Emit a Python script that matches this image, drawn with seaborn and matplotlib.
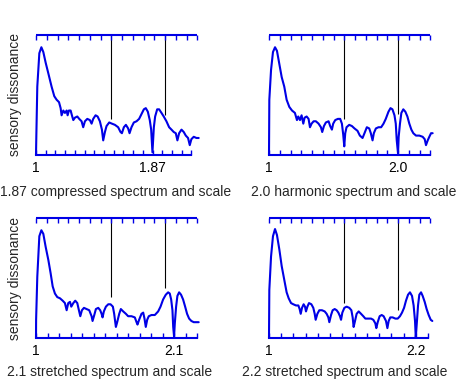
"""
Dissonance curves for compressed, harmonic and stretched spectra
Run: python plot.py
"""

import numpy as np
import matplotlib
matplotlib.use("Agg")
import matplotlib.pyplot as plt
import seaborn as sns

# ── Data (interval in cents above 1, sensory dissonance 0..1) ─────────────
comp_cents = [0, 3, 12, 31, 50, 68, 90, 115, 145, 170, 192, 214, 229, 238, 254, 269,
              285, 294, 306, 322, 337, 347, 362, 384, 402, 424, 439, 455, 477, 501,
              517, 532, 554, 573, 594, 613, 625, 641, 656, 681, 706, 734, 764, 786,
              799, 817, 836, 857, 870, 888, 910, 935, 959, 981, 1003, 1021, 1040,
              1058, 1071, 1083, 1096, 1108, 1127, 1145, 1167, 1188, 1213, 1238, 1260,
              1281, 1300, 1315, 1331, 1353, 1374, 1393, 1414, 1430, 1445, 1467, 1492,
              1513]
comp_diss = [0.00, 0.15, 0.57, 0.85, 0.90, 0.86, 0.77, 0.68, 0.57, 0.49, 0.46, 0.44,
             0.39, 0.33, 0.37, 0.35, 0.37, 0.33, 0.37, 0.37, 0.32, 0.29, 0.31, 0.32,
             0.30, 0.28, 0.23, 0.28, 0.30, 0.29, 0.26, 0.30, 0.33, 0.32, 0.28, 0.21,
             0.12, 0.19, 0.24, 0.27, 0.26, 0.25, 0.23, 0.19, 0.18, 0.23, 0.25, 0.22,
             0.18, 0.23, 0.27, 0.28, 0.30, 0.34, 0.38, 0.39, 0.36, 0.29, 0.21, 0.02,
             0.23, 0.32, 0.38, 0.38, 0.35, 0.32, 0.28, 0.23, 0.21, 0.19, 0.18, 0.12,
             0.18, 0.21, 0.19, 0.16, 0.14, 0.08, 0.13, 0.15, 0.14, 0.14]

harm_cents = [0, 1, 3, 19, 37, 56, 74, 96, 118, 142, 164, 189, 214, 241, 260, 272,
              288, 303, 319, 331, 350, 368, 381, 396, 415, 436, 461, 483, 495, 511,
              529, 554, 569, 585, 597, 616, 641, 662, 678, 690, 700, 709, 721, 746,
              771, 795, 823, 845, 870, 888, 910, 932, 947, 963, 975, 994, 1018, 1043,
              1065, 1086, 1111, 1130, 1148, 1167, 1179, 1188, 1200, 1206, 1218, 1231,
              1249, 1268, 1287, 1305, 1324, 1342, 1367, 1398, 1429, 1448, 1460, 1476,
              1491, 1507, 1522]
harm_diss = [0.00, 0.15, 0.46, 0.71, 0.86, 0.90, 0.87, 0.76, 0.65, 0.57, 0.46, 0.40,
             0.37, 0.35, 0.29, 0.32, 0.29, 0.33, 0.26, 0.31, 0.32, 0.30, 0.23, 0.26,
             0.28, 0.28, 0.26, 0.23, 0.19, 0.24, 0.27, 0.28, 0.24, 0.21, 0.26, 0.29,
             0.30, 0.30, 0.26, 0.17, 0.07, 0.18, 0.23, 0.25, 0.24, 0.22, 0.20, 0.16,
             0.14, 0.18, 0.23, 0.22, 0.18, 0.12, 0.18, 0.22, 0.23, 0.23, 0.26, 0.30,
             0.36, 0.39, 0.38, 0.33, 0.26, 0.12, 0.01, 0.15, 0.26, 0.35, 0.38, 0.36,
             0.32, 0.26, 0.21, 0.18, 0.16, 0.16, 0.15, 0.13, 0.08, 0.12, 0.15, 0.18,
             0.18]

str21_cents = [0, 1, 12, 31, 50, 68, 90, 115, 136, 155, 176, 198, 223, 248, 269, 285,
               300, 316, 328, 347, 365, 384, 399, 412, 427, 446, 470, 495, 517, 526,
               542, 557, 579, 597, 610, 619, 631, 650, 672, 693, 715, 727, 737, 743,
               755, 774, 789, 811, 836, 857, 888, 919, 935, 944, 959, 981, 997, 1009,
               1021, 1034, 1049, 1074, 1105, 1136, 1158, 1182, 1207, 1229, 1244, 1257,
               1269, 1276, 1284, 1291, 1303, 1315, 1331, 1349, 1368, 1387, 1405, 1424,
               1445, 1467, 1492, 1513]
str21_diss = [0.00, 0.15, 0.51, 0.85, 0.90, 0.87, 0.76, 0.65, 0.54, 0.43, 0.37, 0.34,
              0.33, 0.31, 0.29, 0.23, 0.29, 0.30, 0.26, 0.29, 0.31, 0.29, 0.23, 0.18,
              0.23, 0.25, 0.24, 0.23, 0.18, 0.14, 0.19, 0.24, 0.25, 0.23, 0.20, 0.17,
              0.22, 0.26, 0.28, 0.28, 0.26, 0.20, 0.13, 0.09, 0.13, 0.20, 0.24, 0.22,
              0.20, 0.18, 0.18, 0.17, 0.13, 0.11, 0.15, 0.20, 0.21, 0.16, 0.09, 0.15,
              0.18, 0.19, 0.19, 0.22, 0.26, 0.32, 0.36, 0.38, 0.37, 0.32, 0.23, 0.09,
              0.01, 0.12, 0.26, 0.35, 0.38, 0.36, 0.32, 0.26, 0.20, 0.16, 0.14, 0.13,
              0.13, 0.13]

str22_cents = [0, 1, 3, 19, 37, 56, 74, 96, 118, 143, 164, 183, 205, 226, 251, 273,
               285, 295, 307, 322, 335, 344, 357, 372, 394, 412, 425, 434, 450, 468,
               493, 518, 536, 552, 561, 577, 592, 611, 629, 645, 660, 670, 682, 701,
               722, 747, 766, 778, 787, 800, 815, 834, 856, 877, 896, 921, 949, 970,
               989, 998, 1011, 1029, 1048, 1066, 1088, 1101, 1113, 1128, 1150, 1175,
               1197, 1218, 1237, 1256, 1274, 1293, 1311, 1330, 1345, 1358, 1365, 1376,
               1386, 1398, 1414, 1429, 1448, 1466, 1485, 1504, 1519]
str22_diss = [0.00, 0.14, 0.40, 0.68, 0.85, 0.91, 0.86, 0.74, 0.60, 0.48, 0.38, 0.33,
              0.29, 0.28, 0.27, 0.27, 0.24, 0.20, 0.25, 0.28, 0.26, 0.22, 0.26, 0.29,
              0.28, 0.25, 0.20, 0.15, 0.20, 0.23, 0.23, 0.22, 0.20, 0.17, 0.13, 0.19,
              0.23, 0.24, 0.23, 0.21, 0.18, 0.15, 0.21, 0.25, 0.26, 0.25, 0.23, 0.17,
              0.09, 0.14, 0.20, 0.22, 0.20, 0.18, 0.16, 0.16, 0.16, 0.15, 0.12, 0.08,
              0.13, 0.18, 0.19, 0.18, 0.14, 0.08, 0.14, 0.17, 0.17, 0.16, 0.16, 0.18,
              0.21, 0.25, 0.31, 0.36, 0.38, 0.35, 0.27, 0.14, 0.00, 0.14, 0.27, 0.36,
              0.38, 0.35, 0.30, 0.24, 0.19, 0.15, 0.14]

pseudo_octaves = [1.87, 2.0, 2.1, 2.2]
octave_labels = ["1.87", "2.0", "2.1", "2.2"]
n_bottom_steps = [16, 15, 14, 13]          # pseudo-octave steps shown on the lower axis
n_top_steps = 15                           # 12-tet steps on the upper axis
marked_steps = [7, 12]                     # 12-tet fifth and octave
line_bottoms = [[0.30, 0.33], [0.30, 0.34], [0.34, 0.42], [0.29, 0.23]]
titles = ["1.87 compressed spectrum and scale",
          "2.0 harmonic spectrum and scale",
          "2.1 stretched spectrum and scale",
          "2.2 stretched spectrum and scale"]

curves = [(comp_cents, comp_diss), (harm_cents, harm_diss),
          (str21_cents, str21_diss), (str22_cents, str22_diss)]

# ── Style ────────────────────────────────────────────────────────────────
BLUE = "#0000e6"
sns.set_style("white")
plt.rcParams["font.family"] = ["Liberation Sans", "DejaVu Sans"]

W, H = 476, 381
origins = [(36, 154.7), (269, 154.7), (36, 337.7), (269, 337.7)]   # pixel of (1, 0)
title_px = [(116, 37), (354, 37), (110, 34.5), (345, 34.5)]
AX_W, AX_H = 164, 119.4
CENTS_PER_PX = 9.3

fig = plt.figure(figsize=(W / 100, H / 100), dpi=100)

for i, (cents, diss) in enumerate(curves):
    x0, y0 = origins[i]
    ax = fig.add_axes([x0 / W, (H - y0) / H, AX_W / W, AX_H / H])
    ax.set_xlim(0, AX_W * CENTS_PER_PX)
    ax.set_ylim(0, 1)

    sns.lineplot(x=cents, y=diss, ax=ax, color=BLUE, lw=1.5,
                 estimator=None, sort=False, clip_on=False)

    # scale steps of 12-tet that are marked with black lines
    ax.vlines([s * 100 for s in marked_steps], line_bottoms[i], 1,
              color="black", lw=0.8)

    # lower axis: steps of the pseudo-octave
    oct_cents = 1200 * np.log2(pseudo_octaves[i])
    steps = [k * oct_cents / 12 for k in range(n_bottom_steps[i] + 1)]
    labels = [""] * len(steps)
    labels[0] = "1"
    labels[12] = octave_labels[i]
    ax.set_xticks(steps, labels)
    ax.tick_params(axis="x", bottom=True, top=False, direction="in", length=3.5,
                   width=1.0, color=BLUE, labelcolor="black", pad=4.5, labelsize=10)
    ax.spines["bottom"].set_bounds(0, steps[-1])
    ax.spines["bottom"].set_color(BLUE)
    ax.spines["bottom"].set_linewidth(1.5)
    for side in ["left", "right", "top"]:
        ax.spines[side].set_visible(False)
    ax.set_yticks([])
    ax.set_xlabel("")
    ax.set_ylabel("")

    # upper axis: 12-tet steps, drawn along the top edge
    top = [k * 100 for k in range(n_top_steps + 1)]
    edge = ax.get_xaxis_transform()
    ax.plot([top[0], top[-1]], [1, 1], color=BLUE, lw=1.5, transform=edge,
            clip_on=False, solid_capstyle="butt")
    ax.vlines(top, 1 - 5 / AX_H, 1, color=BLUE, lw=1.0, transform=edge,
              clip_on=False)

    if i % 2 == 0:
        ax.text(-21 / AX_W, 0.5, "sensory dissonance", rotation=90,
                transform=ax.transAxes, ha="center", va="center", fontsize=10)
    tx, ty = title_px[i]
    ax.text((tx - x0) / AX_W, -ty / AX_H, titles[i],
            transform=ax.transAxes, ha="center", va="center", fontsize=10)

fig.savefig("out.png", dpi=100)
